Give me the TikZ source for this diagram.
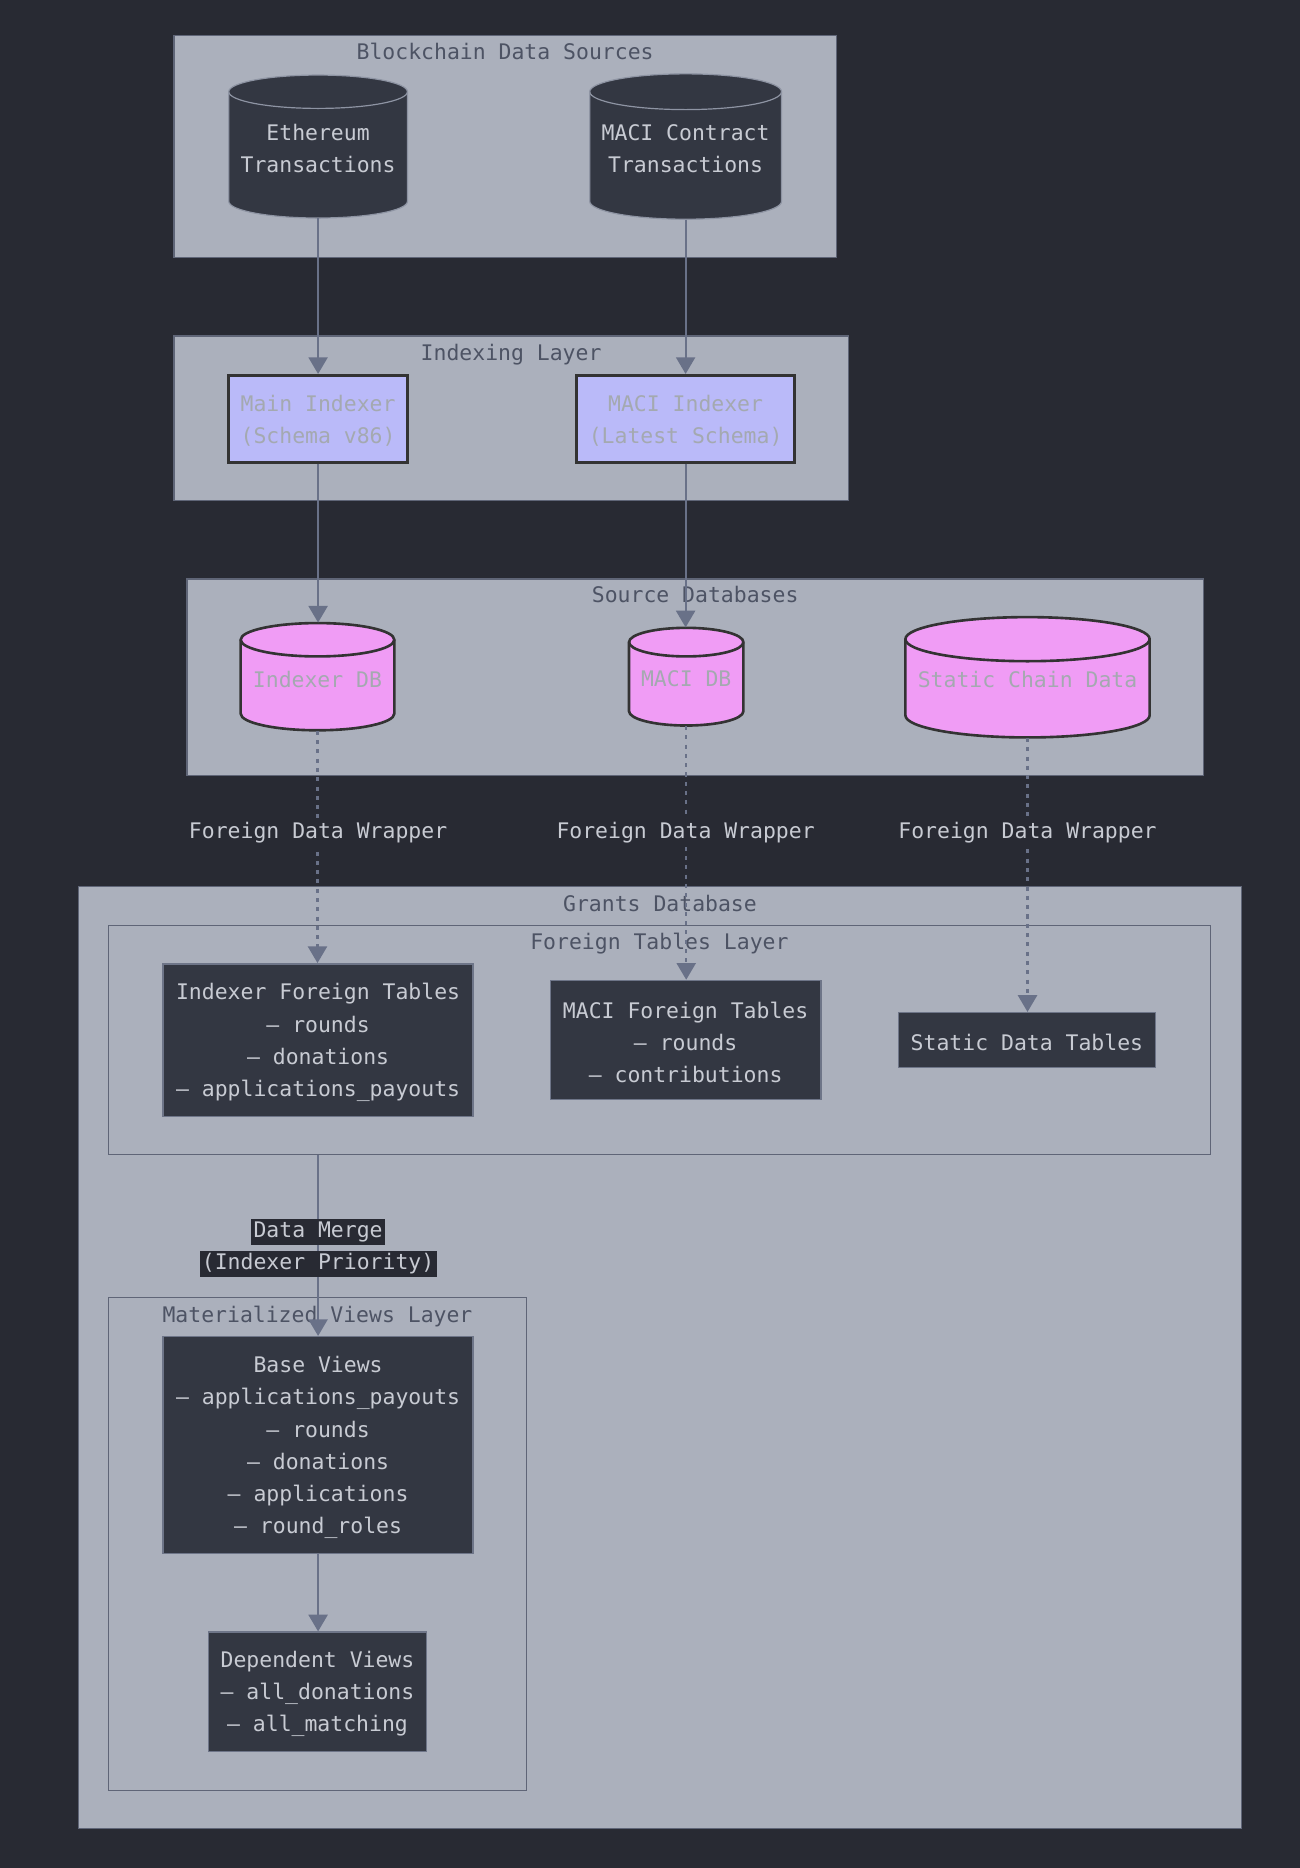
\documentclass[tikz,border=0pt]{standalone}
\usepackage{fontspec}
\setmainfont{DejaVu Sans Mono}
\usetikzlibrary{arrows.meta}
\definecolor{bg}{HTML}{282A33}
\definecolor{clfill}{HTML}{ABB0BC}
\definecolor{clline}{HTML}{5F6577}
\definecolor{cltext}{HTML}{4D5364}
\definecolor{darkfill}{HTML}{333742}
\definecolor{darkline}{HTML}{6E7588}
\definecolor{cylline}{HTML}{8E94A3}
\definecolor{lighttext}{HTML}{C8CBD3}
\definecolor{lav}{HTML}{BABAF9}
\definecolor{pinkfill}{HTML}{F09CF5}
\definecolor{ink}{HTML}{333333}
\definecolor{greytext}{HTML}{A4A9B0}
\definecolor{edgecol}{HTML}{697188}
\tikzset{
  every node/.style={font={\fontsize{9}{13.5}\selectfont}},
  clusterbox/.style={draw=clline, fill=clfill, line width=0.6pt, inner sep=0pt},
  cltitle/.style={text=cltext, inner sep=0pt, text height=6.8pt, text depth=1.9pt},
  darkbox/.style={draw=darkline, fill=darkfill, line width=0.6pt, inner sep=0pt},
  darkboxtext/.style={text=lighttext, align=center, inner sep=0pt},
  lavbox/.style={draw=ink, fill=lav, line width=1.1pt, inner sep=0pt},
  lavboxtext/.style={text=greytext, align=center, inner sep=0pt},
  darkcyl/.style={draw=cylline, fill=darkfill, line width=0.5pt},
  darkcyltext/.style={text=lighttext, align=center, inner sep=0pt},
  pinkcyl/.style={draw=ink, fill=pinkfill, line width=1.1pt},
  pinkcyltext/.style={text=greytext, align=center, inner sep=0pt},
  edge/.style={draw=edgecol, line width=0.9pt, -{Triangle[width=8pt,length=7pt]}},
  dotedge/.style={draw=edgecol, line width=0.9pt, dash pattern=on 1.7pt off 2.2pt, -{Triangle[width=8pt,length=7pt]}},
  edgelabel/.style={fill=bg, text=lighttext, inner sep=1.5pt},
  mergelabel/.style={fill=bg, text=lighttext, inner xsep=1pt, inner ysep=1pt, text height=7pt, text depth=2.2pt},
}
% #1 name, #2 left, #3 right, #4 top, #5 bottom, #6 ellipse ry, #7 shape style, #8 text style, #9 text
\newcommand\dbcyl[9]{%
  \pgfmathsetmacro\cylrx{(#3-#2)/4}%
  \pgfmathsetmacro\cylry{#6/2}%
  \path[#7] (#2,#4+#6) -- (#2,#5-#6)
     arc[start angle=180,end angle=360,x radius=\cylrx pt,y radius=\cylry pt]
     -- (#3,#4+#6)
     arc[start angle=0,end angle=180,x radius=\cylrx pt,y radius=\cylry pt] -- cycle;
  \path[#7,fill=none] (#2,#4+#6)
     arc[start angle=180,end angle=360,x radius=\cylrx pt,y radius=\cylry pt];
  \node[inner sep=0pt, minimum width={(#3-#2)*0.5pt}, minimum height={(#5-#4)*0.5pt},
        label={[#8, yshift=-1pt]center:{#9}}]
     (#1) at ({(#2+#3)/2},{(#4+#5)/2}) {};
}
% #1 style, #2 name, #3 x, #4 y, #5 width, #6 height, #7 text
\newcommand\textbox[7]{%
  \node[#1, minimum width=#5, minimum height=#6,
        label={[#1text, yshift=-1pt]center:{#7}}] (#2) at (#3,#4) {};
}
% #1 name, #2 left, #3 top, #4 right, #5 bottom, #6 title, #7 title y
\newcommand\clusterrect[7]{%
  \node[clusterbox, minimum width={(#4-#2)*0.5pt}, minimum height={(#5-#3)*0.5pt}]
     (#1) at ({(#2+#4)/2},{(#3+#5)/2}) {};
  \node[cltitle] (#1-title) at ({(#2+#4)/2},#7+2) {#6};
}
\begin{document}
\begin{tikzpicture}[x=0.5pt,y=-0.5pt]
\fill[bg] (0,0) rectangle (1091,1568);
\useasboundingbox (0,0) rectangle (1091,1568);

% clusters
\clusterrect{c1}{146}{30}{702}{216}{Blockchain Data Sources}{43}
\clusterrect{c2}{146}{282}{712}{420}{Indexing Layer}{296}
\clusterrect{c3}{157}{486}{1010}{651}{Source Databases}{499}
\clusterrect{c4}{66}{744}{1042}{1535}{Grants Database}{758}
\clusterrect{c5}{91}{777}{1016}{969}{Foreign Tables Layer}{790}
\clusterrect{c6}{91}{1089}{442}{1503}{Materialized Views Layer}{1103}

% blockchain sources
\dbcyl{eth}{192}{342}{63}{183}{14}{darkcyl}{darkcyltext}{Ethereum\\Transactions}
\dbcyl{macic}{495}{656}{62}{184}{15}{darkcyl}{darkcyltext}{MACI Contract\\Transactions}

% indexers
\textbox{lavbox}{mainidx}{267}{351.5}{75pt}{36.5pt}{Main Indexer\\(Schema v86)}
\textbox{lavbox}{maciidx}{575.5}{351.5}{91.5pt}{36.5pt}{MACI Indexer\\(Latest Schema)}

% source dbs
\dbcyl{idxdb}{202}{331}{523}{613}{14}{pinkcyl}{pinkcyltext}{Indexer DB}
\dbcyl{macidb}{528}{624}{527}{609}{12}{pinkcyl}{pinkcyltext}{MACI DB}
\dbcyl{staticdb}{760}{965}{518}{619}{18.5}{pinkcyl}{pinkcyltext}{Static Chain Data}

% foreign tables
\textbox{darkbox}{idxft}{267}{873}{130pt}{64pt}
  {Indexer Foreign Tables\\– rounds\\– donations\\– applications\_payouts}
\textbox{darkbox}{macift}{575.5}{873}{113.5pt}{50pt}
  {MACI Foreign Tables\\– rounds\\– contributions}
\textbox{darkbox}{staticft}{862}{873}{108pt}{23pt}
  {Static Data Tables}

% materialized views
\textbox{darkbox}{base}{267}{1213}{130pt}{91pt}
  {Base Views\\– applications\_payouts\\– rounds\\– donations\\– applications\\– round\_roles}
\textbox{darkbox}{dep}{266.5}{1420}{91.5pt}{50pt}
  {Dependent Views\\– all\_donations\\– all\_matching}

% edges
\draw[edge] (eth.south) -- (mainidx.north);
\draw[edge] (macic.south) -- (maciidx.north);
\draw[edge] (mainidx.south) -- (mainidx.south |- idxdb.north);
\draw[edge] (maciidx.south) -- (maciidx.south |- macidb.north);
\draw[dotedge] (idxdb.south) -- (idxdb.south |- idxft.north);
\draw[dotedge] (macidb.south) -- (macidb.south |- macift.north);
\draw[dotedge] (staticdb.south) -- (staticdb.south |- staticft.north);
\draw[edge] (base.north |- c5.south) -- (base.north);
\draw[edge] (base.south) -- (base.south |- dep.north);

% edge labels
\node[edgelabel] (fdw1) at (267,699) {Foreign Data Wrapper};
\node[edgelabel] (fdw2) at (575.5,699) {Foreign Data Wrapper};
\node[edgelabel] (fdw3) at (862.5,699) {Foreign Data Wrapper};
\node[mergelabel] (merge1) at (267,1034) {Data Merge};
\node[mergelabel] (merge2) at (267,1061) {(Indexer Priority)};
\end{tikzpicture}
\end{document}
